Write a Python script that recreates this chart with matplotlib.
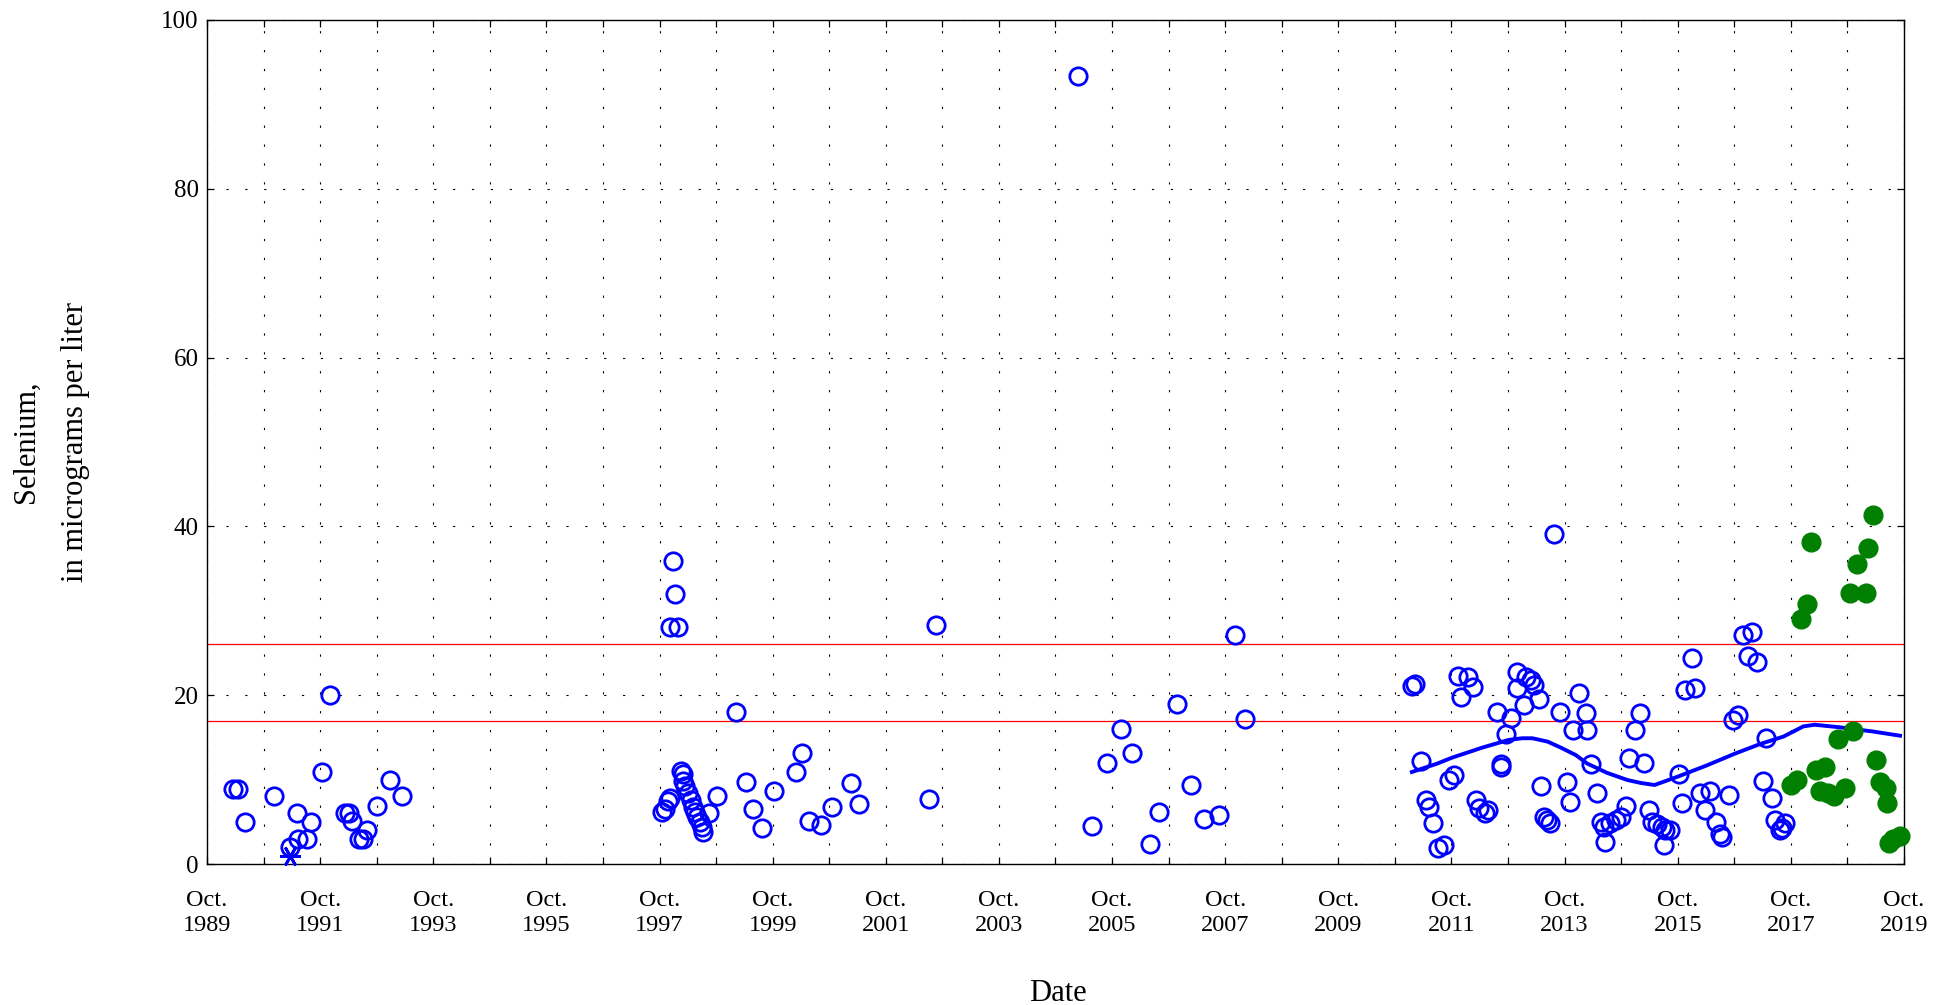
import matplotlib
matplotlib.use("Agg")
import matplotlib.pyplot as plt

plt.rcParams['font.family'] = ['Liberation Serif', 'DejaVu Serif']

# sample dates as decimal years, selenium in micrograms per liter
circle_year = [
    1990.21, 1990.29, 1990.42, 1990.93, 1991.22, 1991.34, 1991.36, 1991.51, 1991.59, 1991.79,
    1991.92, 1992.19, 1992.26, 1992.31, 1992.44, 1992.50, 1992.58, 1992.76, 1992.99, 1993.19,
    1997.80, 1997.85, 1997.90, 1997.94, 1997.99, 1998.03, 1997.93, 1998.07, 1998.13, 1998.17,
    1998.16, 1998.20, 1998.25, 1998.31, 1998.34, 1998.38, 1998.42, 1998.47, 1998.50, 1998.51,
    1998.62, 1998.76, 1999.11, 1999.27, 1999.41, 1999.57, 1999.77, 2000.16, 2000.27, 2000.39,
    2000.61, 2000.80, 2001.13, 2001.27, 2002.51, 2002.63, 2005.14, 2005.40, 2005.66, 2005.90,
    2006.11, 2006.42, 2006.58, 2006.90, 2007.15, 2007.37, 2007.64, 2007.92, 2008.10,
    2011.05, 2011.11, 2011.21, 2011.30, 2011.35, 2011.42, 2011.52, 2011.62, 2011.71, 2011.79,
    2011.87, 2011.92, 2012.05, 2012.13, 2012.18, 2012.24, 2012.34, 2012.40, 2012.56, 2012.62,
    2012.63, 2012.72, 2012.81, 2012.90, 2012.91, 2013.03, 2013.06, 2013.15, 2013.21, 2013.29,
    2013.34, 2013.38, 2013.44, 2013.50, 2013.56, 2013.66, 2013.80, 2013.84, 2013.90, 2014.01,
    2014.12, 2014.15, 2014.22, 2014.33, 2014.39, 2014.45, 2014.47, 2014.56, 2014.65, 2014.74,
    2014.83, 2014.89, 2014.99, 2015.08, 2015.15, 2015.24, 2015.30, 2015.39, 2015.47, 2015.50,
    2015.53, 2015.62, 2015.77, 2015.83, 2015.87, 2016.00, 2016.06, 2016.15, 2016.24, 2016.32,
    2016.43, 2016.50, 2016.53, 2016.65, 2016.72, 2016.81, 2016.91, 2017.00, 2017.06, 2017.15,
    2017.25, 2017.31, 2017.41, 2017.47, 2017.56, 2017.60, 2017.64,
]
circle_value = [
    8.9, 8.9, 5.0, 8.0, 2.0, 6.1, 3.0, 3.0, 5.0, 10.9,
    20.0, 6.0, 6.0, 5.1, 3.0, 3.0, 4.0, 6.9, 10.0, 8.0,
    6.2, 6.5, 7.5, 7.8, 35.9, 32.0, 28.1, 28.1, 11.0, 10.7,
    9.8, 9.2, 8.4, 7.6, 6.8, 6.2, 5.6, 5.0, 4.4, 3.8,
    6.0, 8.1, 18.0, 9.7, 6.5, 4.3, 8.6, 10.9, 13.1, 5.1,
    4.6, 6.8, 9.6, 7.1, 7.7, 28.3, 93.4, 4.5, 12.0, 16.0,
    13.2, 2.4, 6.2, 19.0, 9.4, 5.3, 5.8, 27.1, 17.2,
    21.1, 21.3, 12.2, 7.6, 6.8, 4.9, 1.9, 2.2, 10.0, 10.5,
    22.3, 19.8, 22.2, 21.0, 7.6, 6.6, 6.0, 6.4, 18.0, 11.5,
    11.9, 15.4, 17.3, 20.8, 22.8, 18.8, 22.2, 21.8, 21.2, 19.6,
    9.3, 5.6, 5.2, 4.8, 39.1, 18.0, 9.75, 7.3, 15.9, 20.3,
    17.85, 15.9, 11.8, 8.45, 5.0, 4.4, 2.6, 4.9, 5.2, 5.6,
    6.9, 12.6, 15.9, 17.85, 12.0, 6.4, 5.0, 4.7, 4.4, 2.3,
    4.0, 4.0, 10.7, 7.2, 20.6, 24.4, 20.9, 8.4, 6.4, 8.7,
    5.0, 3.6, 3.2, 8.2, 17.1, 17.65, 27.1, 24.6, 27.5, 23.9,
    9.8, 14.9, 7.8, 5.2, 4.0, 4.3, 4.8,
]

# censored (less-than) result
censored_year = [1991.22]
censored_value = [1.0]

# most recent samples
recent_year = [
    2017.76, 2017.85, 2017.93, 2018.03, 2018.10, 2018.19, 2018.26, 2018.35, 2018.41, 2018.52,
    2018.58, 2018.70, 2018.79, 2018.84, 2018.92, 2019.08, 2019.11, 2019.20, 2019.25, 2019.32,
    2019.43, 2019.45, 2019.48, 2019.56, 2019.68,
]
recent_value = [
    9.4, 10.0, 29.0, 30.8, 38.2, 11.1, 8.7, 11.5, 8.4, 8.0,
    14.8, 9.0, 32.1, 15.7, 35.6, 32.1, 37.4, 41.4, 12.3, 9.75,
    9.0, 7.2, 2.45, 3.0, 3.3,
]

# smoothed trend
trend_year = [
    2011.05, 2011.50, 2011.76, 2012.30, 2012.76, 2013.00, 2013.18, 2013.45, 2013.68, 2013.95,
    2014.15, 2014.50, 2014.86, 2015.10, 2015.34, 2015.75, 2016.27, 2016.77, 2017.20, 2017.62,
    2017.97, 2018.17, 2018.61, 2019.20, 2019.68,
]
trend_value = [
    10.9, 11.9, 12.6, 13.8, 14.7, 14.9, 14.9, 14.5, 13.8, 12.9,
    11.9, 10.8, 9.95, 9.6, 9.36, 10.35, 11.7, 13.1, 14.2, 15.1,
    16.3, 16.5, 16.2, 15.7, 15.2,
]

reference_levels = [26.1, 17.0]

tick_years = list(range(1989, 2020, 2))

fig = plt.figure(figsize=(19.34, 10.05), dpi=100)
ax = fig.add_axes([207 / 1934, 1 - 864 / 1005, (1904 - 207) / 1934, (864 - 20) / 1005])

for level in reference_levels:
    ax.axhline(level, color='#ff0000', lw=0.9, zorder=2)

ax.plot(circle_year, circle_value, 'o', ms=12.5, mfc='none', mec='#0000ff', mew=2.0,
        zorder=4, clip_on=False)
ax.plot(censored_year, censored_value, ls='none', marker=(6, 2, 90), ms=15, mec='#0000ff',
        mew=2.0, zorder=4, clip_on=False)
ax.plot(trend_year, trend_value, color='#0000ff', lw=2.8, zorder=3)
ax.plot(recent_year, recent_value, 'o', ms=13.5, mfc='#007f00', mec='#007f00', mew=1,
        zorder=5, clip_on=False)

ax.set_xlim(1989.75, 2019.75)
ax.set_ylim(0, 100)
ax.set_xticks([y + 0.75 for y in tick_years])
ax.set_xticklabels(['Oct.\n%d' % y for y in tick_years])
ax.set_xticks([y + 1.75 for y in tick_years[:-1]], minor=True)
ax.set_yticks(range(0, 101, 20))

ax.tick_params(which='both', direction='in', length=5, width=0.9, top=True, right=True,
               color='black')
ax.tick_params(axis='x', which='major', labelsize=17.5, pad=19)
ax.tick_params(axis='y', labelsize=18, pad=6)

ax.grid(which='both', color='black', lw=0.8, ls=(0, (2, 15)), zorder=1)
ax.set_axisbelow(True)
for s in ax.spines.values():
    s.set_linewidth(1.0)

fig.text(1058 / 1934, 1 - 993 / 1005, 'Date', ha='center', va='center', fontsize=22)
fig.text(51 / 1934, 1 - 442 / 1005, 'Selenium,\nin micrograms per liter', ha='center',
         va='center', rotation=90, fontsize=22, linespacing=1.95, multialignment='center')

fig.savefig('out.png', dpi=100)
